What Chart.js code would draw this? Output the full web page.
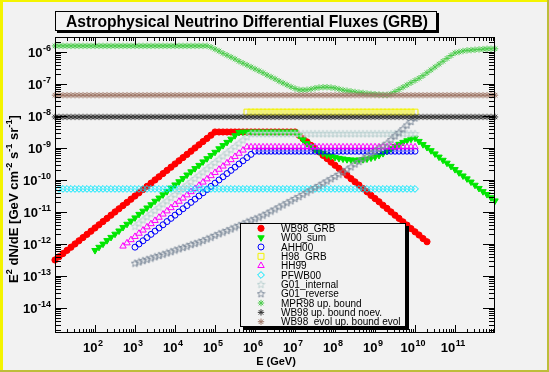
<!DOCTYPE html>
<html>
<head>
<meta charset="utf-8">
<title>Astrophysical Neutrino Differential Fluxes (GRB)</title>
<script src="https://cdn.jsdelivr.net/npm/chart.js@4.4.1/dist/chart.umd.min.js"></script>
<style>
  html, body { margin: 0; padding: 0; background: #f2f2f2; }
  #wrap { width: 549px; height: 372px; }
</style>
</head>
<body>
<div id="wrap"><canvas id="fluxChart" width="549" height="372"></canvas></div>
<script>
// log10(E / GeV) sampling grid shared by every curve
const LOG_E = [
  1.0, 1.1, 1.2, 1.3, 1.4, 1.5, 1.6, 1.7, 1.8, 1.9,
  2.0, 2.1, 2.2, 2.3, 2.4, 2.5, 2.6, 2.7, 2.8, 2.9,
  3.0, 3.1, 3.2, 3.3, 3.4, 3.5, 3.6, 3.7, 3.8, 3.9,
  4.0, 4.1, 4.2, 4.3, 4.4, 4.5, 4.6, 4.7, 4.8, 4.9,
  5.0, 5.1, 5.2, 5.3, 5.4, 5.5, 5.6, 5.7, 5.8, 5.9,
  6.0, 6.1, 6.2, 6.3, 6.4, 6.5, 6.6, 6.7, 6.8, 6.9,
  7.0, 7.1, 7.2, 7.3, 7.4, 7.5, 7.6, 7.7, 7.8, 7.9,
  8.0, 8.1, 8.2, 8.3, 8.4, 8.5, 8.6, 8.7, 8.8, 8.9,
  9.0, 9.1, 9.2, 9.3, 9.4, 9.5, 9.6, 9.7, 9.8, 9.9,
  10.0, 10.1, 10.2, 10.3, 10.4, 10.5, 10.6, 10.7, 10.8, 10.9,
  11.0, 11.1, 11.2, 11.3, 11.4, 11.5, 11.6, 11.7, 11.8, 11.9,
  12.0
];

const SERIES_NAMES = [
  'WB98_GRB', 'W00_sum', 'AHH00', 'H98_GRB', 'HH99', 'PFWB00',
  'G01_internal', 'G01_reverse', 'MPR98 up. bound', 'WB98 up. bound noev.',
  'WB98_evol up. bound evol'
];

// log10(E^2 dN/dE); each list starts at the log10(E) in *From
const wb98GrbFrom = 1.0;
const wb98Grb = [
  -12.5, -12.4, -12.3, -12.2, -12.1, -12.0, -11.9, -11.8, -11.7, -11.6,
  -11.5, -11.4, -11.3, -11.2, -11.1, -11.0, -10.9, -10.8, -10.7, -10.6,
  -10.5, -10.4, -10.3, -10.2, -10.1, -10.0, -9.9, -9.8, -9.7, -9.6,
  -9.5, -9.4, -9.3, -9.2, -9.1, -9.0, -8.9, -8.8, -8.7, -8.6,
  -8.5,
  -8.5, -8.5, -8.5, -8.5, -8.5, -8.5, -8.5, -8.5, -8.5, -8.5,
  -8.5, -8.5, -8.5, -8.5, -8.5, -8.5, -8.5, -8.5, -8.5, -8.5,
  -8.60, -8.71, -8.81, -8.92, -9.02, -9.12, -9.23, -9.33, -9.44, -9.54,
  -9.64, -9.75, -9.85, -9.96, -10.06, -10.16, -10.27, -10.37, -10.48, -10.58,
  -10.68, -10.79, -10.89, -11.00, -11.10, -11.20, -11.31, -11.41, -11.52, -11.62,
  -11.72, -11.83, -11.93
];

const w00SumFrom = 2.0;
const w00Sum = [
  -12.20, -12.10, -12.00, -11.89, -11.79, -11.69, -11.59, -11.48, -11.38, -11.28,
  -11.18, -11.07, -10.97, -10.87, -10.77, -10.66, -10.56, -10.46, -10.36, -10.25,
  -10.15, -10.05, -9.95, -9.84, -9.74, -9.64, -9.54, -9.43, -9.33, -9.23,
  -9.13, -9.02, -8.92, -8.82, -8.72, -8.61, -8.51,
  -8.5, -8.5, -8.5, -8.5, -8.5, -8.5, -8.5, -8.5, -8.5, -8.5, -8.5, -8.5, -8.5, -8.5,
  -8.60, -8.74, -8.86, -8.95, -9.04, -9.11, -9.17, -9.22, -9.26, -9.29,
  -9.32, -9.34, -9.36, -9.37, -9.38, -9.37, -9.36, -9.34, -9.31, -9.28,
  -9.23, -9.17, -9.10, -9.02, -8.95, -8.88, -8.82, -8.77, -8.72, -8.69,
  -8.79, -8.89, -8.98, -9.08, -9.18, -9.28, -9.38, -9.47, -9.57, -9.67,
  -9.77, -9.87, -9.96, -10.06, -10.16, -10.26, -10.36, -10.45, -10.55, -10.65
];

const ahh00From = 3.0;
const ahh00 = [
  -12.1, -12.0, -11.9, -11.8, -11.7, -11.6, -11.5, -11.4, -11.3, -11.2,
  -11.1, -11.0, -10.9, -10.8, -10.7, -10.6, -10.5, -10.4, -10.3, -10.2,
  -10.1, -10.0, -9.9, -9.8, -9.7, -9.6, -9.5, -9.4, -9.3, -9.2,
  -9.1,
  -9.1, -9.1, -9.1, -9.1, -9.1, -9.1, -9.1, -9.1, -9.1, -9.1,
  -9.1, -9.1, -9.1, -9.1, -9.1, -9.1, -9.1, -9.1, -9.1, -9.1,
  -9.1, -9.1, -9.1, -9.1, -9.1, -9.1, -9.1, -9.1, -9.1, -9.1,
  -9.1, -9.1, -9.1, -9.1, -9.1, -9.1, -9.1, -9.1, -9.1, -9.1
];

const h98GrbFrom = 5.8;
const h98Grb = [
  -7.88, -7.88, -7.88, -7.88, -7.88, -7.88, -7.88, -7.88, -7.88, -7.88,
  -7.88, -7.88, -7.88, -7.88, -7.88, -7.88, -7.88, -7.88, -7.88, -7.88,
  -7.88, -7.88, -7.88, -7.88, -7.88, -7.88, -7.88, -7.88, -7.88, -7.88,
  -7.88, -7.88, -7.88, -7.88, -7.88, -7.88, -7.88, -7.88, -7.88, -7.88,
  -7.88, -7.88, -7.88
];

const hh99From = 2.7;
const hh99 = [
  -12.07, -11.97, -11.87, -11.77, -11.67, -11.57, -11.47, -11.37, -11.27, -11.17,
  -11.07, -10.97, -10.87, -10.77, -10.67, -10.57, -10.47, -10.37, -10.27, -10.17,
  -10.07, -9.97, -9.87, -9.77, -9.67, -9.57, -9.47, -9.37, -9.27, -9.17,
  -9.07, -8.97,
  -8.97, -8.97, -8.97, -8.97, -8.97, -8.97, -8.97, -8.97, -8.97, -8.97,
  -8.97, -8.97, -8.97, -8.97, -8.97, -8.97, -8.97, -8.97, -8.97, -8.97,
  -8.97, -8.97, -8.97, -8.97, -8.97, -8.97, -8.97, -8.97, -8.97, -8.97,
  -8.97, -8.97, -8.97, -8.97, -8.97, -8.97, -8.97, -8.97, -8.97, -8.97,
  -8.97, -8.97
];

const pfwb00From = 1.1;
const pfwb00 = [
  -10.28, -10.28, -10.28, -10.28, -10.28, -10.28, -10.28, -10.28, -10.28, -10.28,
  -10.28, -10.28, -10.28, -10.28, -10.28, -10.28, -10.28, -10.28, -10.28, -10.28,
  -10.28, -10.28, -10.28, -10.28, -10.28, -10.28, -10.28, -10.28, -10.28, -10.28,
  -10.28, -10.28, -10.28, -10.28, -10.28, -10.28, -10.28, -10.28, -10.28, -10.28,
  -10.28, -10.28, -10.28, -10.28, -10.28, -10.28, -10.28, -10.28, -10.28, -10.28,
  -10.28, -10.28, -10.28, -10.28, -10.28, -10.28, -10.28, -10.28, -10.28, -10.28,
  -10.28, -10.28, -10.28, -10.28, -10.28, -10.28, -10.28, -10.28, -10.28, -10.28,
  -10.28, -10.28, -10.28, -10.28, -10.28, -10.28, -10.28, -10.28, -10.28, -10.28,
  -10.28, -10.28, -10.28, -10.28, -10.28, -10.28, -10.28, -10.28, -10.28, -10.28
];

const g01InternalFrom = 3.0;
const g01Internal = [
  -11.45, -11.35, -11.25, -11.15, -11.05, -10.95, -10.85, -10.75, -10.65, -10.55,
  -10.45, -10.35, -10.25, -10.15, -10.05, -9.95, -9.85, -9.75, -9.65, -9.55,
  -9.45, -9.35, -9.25, -9.15, -9.05, -8.95, -8.85, -8.75, -8.65, -8.55,
  -8.55, -8.55, -8.55, -8.55, -8.55, -8.55, -8.55, -8.55, -8.55, -8.55,
  -8.55, -8.55, -8.55, -8.55, -8.55, -8.55, -8.55, -8.55, -8.55, -8.55,
  -8.55, -8.55, -8.55, -8.55, -8.55, -8.55, -8.55, -8.55, -8.55, -8.55,
  -8.55, -8.55, -8.55, -8.55, -8.55, -8.55, -8.55, -8.55, -8.55, -8.55,
  -8.55
];

const g01ReverseFrom = 3.0;
const g01Reverse = [
  -12.60, -12.56, -12.52, -12.48, -12.44, -12.40, -12.36, -12.32, -12.28, -12.24,
  -12.19, -12.15, -12.11, -12.07, -12.02, -11.98, -11.94, -11.89, -11.84, -11.79,
  -11.73, -11.68, -11.63, -11.58, -11.53, -11.47, -11.42, -11.37, -11.31, -11.26,
  -11.21, -11.16, -11.10, -11.04, -10.97, -10.91, -10.84, -10.78, -10.71, -10.65,
  -10.58, -10.52, -10.45, -10.38, -10.31, -10.24, -10.17, -10.10, -10.03, -9.96,
  -9.89, -9.82, -9.75, -9.67, -9.59, -9.50, -9.42, -9.34, -9.26, -9.18,
  -9.10, -9.01, -8.93, -8.85, -8.74, -8.62, -8.51, -8.40, -8.28, -8.17,
  -8.06
];

const mpr98From = 1.0;
const mpr98 = [
  -5.81, -5.81, -5.81, -5.81, -5.81, -5.81, -5.81, -5.81, -5.81, -5.81,
  -5.81, -5.81, -5.81, -5.81, -5.81, -5.81, -5.81, -5.81, -5.81, -5.81,
  -5.81, -5.81, -5.81, -5.81, -5.81, -5.81, -5.81, -5.81, -5.81, -5.81,
  -5.81, -5.81, -5.81, -5.81, -5.81, -5.81, -5.81, -5.81, -5.81,
  -5.85, -5.91,
  -5.97, -6.04, -6.10, -6.16, -6.22, -6.29, -6.35, -6.41, -6.47, -6.53,
  -6.59, -6.65, -6.72, -6.78, -6.84, -6.91, -6.97, -7.03, -7.09, -7.14,
  -7.18, -7.19, -7.18, -7.16, -7.13, -7.11, -7.10, -7.10, -7.11, -7.13,
  -7.16, -7.19, -7.21, -7.23, -7.25, -7.27, -7.28, -7.30, -7.31, -7.32,
  -7.33, -7.34, -7.34, -7.31, -7.24, -7.17, -7.10, -7.03, -6.96, -6.89,
  -6.82, -6.74, -6.65, -6.56, -6.47, -6.38, -6.29, -6.20, -6.11, -6.03,
  -6.00, -5.97, -5.95, -5.94, -5.93, -5.92, -5.91, -5.90, -5.90, -5.90
];

const wb98NoevFrom = 1.0;
const wb98Noev = [
  -8.03, -8.03, -8.03, -8.03, -8.03, -8.03, -8.03, -8.03, -8.03, -8.03,
  -8.03, -8.03, -8.03, -8.03, -8.03, -8.03, -8.03, -8.03, -8.03, -8.03,
  -8.03, -8.03, -8.03, -8.03, -8.03, -8.03, -8.03, -8.03, -8.03, -8.03,
  -8.03, -8.03, -8.03, -8.03, -8.03, -8.03, -8.03, -8.03, -8.03, -8.03,
  -8.03, -8.03, -8.03, -8.03, -8.03, -8.03, -8.03, -8.03, -8.03, -8.03,
  -8.03, -8.03, -8.03, -8.03, -8.03, -8.03, -8.03, -8.03, -8.03, -8.03,
  -8.03, -8.03, -8.03, -8.03, -8.03, -8.03, -8.03, -8.03, -8.03, -8.03,
  -8.03, -8.03, -8.03, -8.03, -8.03, -8.03, -8.03, -8.03, -8.03, -8.03,
  -8.03, -8.03, -8.03, -8.03, -8.03, -8.03, -8.03, -8.03, -8.03, -8.03,
  -8.03, -8.03, -8.03, -8.03, -8.03, -8.03, -8.03, -8.03, -8.03, -8.03,
  -8.03, -8.03, -8.03, -8.03, -8.03, -8.03, -8.03, -8.03, -8.03, -8.03,
  -8.03
];

const wb98EvolFrom = 1.0;
const wb98Evol = [
  -7.35, -7.35, -7.35, -7.35, -7.35, -7.35, -7.35, -7.35, -7.35, -7.35,
  -7.35, -7.35, -7.35, -7.35, -7.35, -7.35, -7.35, -7.35, -7.35, -7.35,
  -7.35, -7.35, -7.35, -7.35, -7.35, -7.35, -7.35, -7.35, -7.35, -7.35,
  -7.35, -7.35, -7.35, -7.35, -7.35, -7.35, -7.35, -7.35, -7.35, -7.35,
  -7.35, -7.35, -7.35, -7.35, -7.35, -7.35, -7.35, -7.35, -7.35, -7.35,
  -7.35, -7.35, -7.35, -7.35, -7.35, -7.35, -7.35, -7.35, -7.35, -7.35,
  -7.35, -7.35, -7.35, -7.35, -7.35, -7.35, -7.35, -7.35, -7.35, -7.35,
  -7.35, -7.35, -7.35, -7.35, -7.35, -7.35, -7.35, -7.35, -7.35, -7.35,
  -7.35, -7.35, -7.35, -7.35, -7.35, -7.35, -7.35, -7.35, -7.35, -7.35,
  -7.35, -7.35, -7.35, -7.35, -7.35, -7.35, -7.35, -7.35, -7.35, -7.35,
  -7.35, -7.35, -7.35, -7.35, -7.35, -7.35, -7.35, -7.35, -7.35, -7.35,
  -7.35
];

// axis ranges and labelled decades
const X_MIN = 1e1, X_MAX = 1e12;
const Y_MIN = 1.65e-15, Y_MAX = 2.94e-6;
const X_TICK_EXPONENTS = [2, 3, 4, 5, 6, 7, 8, 9, 10, 11];
const Y_TICK_EXPONENTS = [-6, -7, -8, -9, -10, -11, -12, -13, -14];

const FONT = "'Liberation Sans', Arial, Helvetica, sans-serif";

// open five point star, like the ROOT marker used for the G01 curves
function starMarker(color) {
  const c = document.createElement('canvas');
  c.width = 9; c.height = 9;
  const g = c.getContext('2d');
  g.strokeStyle = color;
  g.lineWidth = 1;
  g.beginPath();
  for (let k = 0; k < 10; k++) {
    const r = k % 2 ? 1.7 : 3.9;
    const a = -Math.PI / 2 + k * Math.PI / 5;
    const px = 4.5 + r * Math.cos(a), py = 4.8 + r * Math.sin(a);
    if (k === 0) g.moveTo(px, py); else g.lineTo(px, py);
  }
  g.closePath();
  g.stroke();
  return c;
}

const MARKERS = [
  { color: '#ff0000', style: 'circle', radius: 3.1, filled: true },
  { color: '#00e600', style: 'triangle', radius: 3.7, rotation: 180, filled: true },
  { color: '#0000ff', style: 'circle', radius: 3.0, filled: false },
  { color: '#f2f200', style: 'rect', radius: 4.2, filled: false },
  { color: '#ff00ff', style: 'triangle', radius: 3.7, filled: false },
  { color: '#00e8ff', style: 'rectRot', radius: 3.4, filled: false },
  { color: '#bcd2d2', style: starMarker('#bcd2d2'), radius: 4, filled: false },
  { color: '#7f8c9c', style: starMarker('#7f8c9c'), radius: 4, filled: false },
  { color: '#4ccc4c', style: 'star', radius: 3.2, filled: false },
  { color: '#333333', style: 'star', radius: 3.2, filled: false },
  { color: '#a07868', style: 'star', radius: 3.2, filled: false }
];

const SERIES = [
  [wb98GrbFrom, wb98Grb], [w00SumFrom, w00Sum], [ahh00From, ahh00],
  [h98GrbFrom, h98Grb], [hh99From, hh99], [pfwb00From, pfwb00],
  [g01InternalFrom, g01Internal], [g01ReverseFrom, g01Reverse],
  [mpr98From, mpr98], [wb98NoevFrom, wb98Noev], [wb98EvolFrom, wb98Evol]
];

function points(from, logFlux) {
  const i0 = LOG_E.indexOf(from);
  return logFlux.map((v, i) => ({ x: Math.pow(10, LOG_E[i0 + i]), y: Math.pow(10, v) }));
}

const datasets = SERIES.map(([from, vals], i) => {
  const m = MARKERS[i];
  return {
    label: SERIES_NAMES[i],
    data: points(from, vals),
    showLine: false,
    pointStyle: m.style,
    pointRadius: m.radius,
    pointRotation: m.rotation || 0,
    pointBorderWidth: 1,
    pointBorderColor: m.color,
    pointBackgroundColor: m.filled ? m.color : 'rgba(0,0,0,0)',
    clip: false,
    order: SERIES.length - i   // later curves on top, as in the original
  };
});

// draw "10" with a raised exponent
function drawPower(ctx, exp, x, y, align) {
  const base = 'bold 13px ' + FONT, sup = 'bold 9px ' + FONT;
  ctx.font = base;
  const w10 = ctx.measureText('10').width;
  ctx.font = sup;
  const wExp = ctx.measureText(String(exp)).width;
  const total = w10 + wExp + 0.5;
  const x0 = align === 'right' ? x - total : x - total / 2;
  ctx.textAlign = 'left';
  ctx.textBaseline = 'alphabetic';
  ctx.font = base;
  ctx.fillText('10', x0, y);
  ctx.font = sup;
  ctx.fillText(String(exp), x0 + w10 + 0.5, y - 6);
}

// text runs with superscripts
function richWidth(ctx, parts, size) {
  let w = 0;
  parts.forEach(([t, s]) => {
    ctx.font = 'bold ' + (s ? size * 0.7 : size) + 'px ' + FONT;
    w += ctx.measureText(t).width;
  });
  return w;
}
function drawRich(ctx, parts, size, x, y) {
  let cx = x;
  parts.forEach(([t, s]) => {
    ctx.font = 'bold ' + (s ? size * 0.7 : size) + 'px ' + FONT;
    ctx.fillText(t, cx, s ? y - size * 0.45 : y);
    cx += ctx.measureText(t).width;
  });
}

const rootStyle = {
  id: 'rootStyle',
  beforeDraw(chart) {
    const ctx = chart.ctx, W = chart.width, H = chart.height;
    ctx.save();
    ctx.fillStyle = '#f2f2f2';
    ctx.fillRect(0, 0, W, H);
    // raised canvas border
    ctx.fillStyle = '#bdbd3a';
    ctx.fillRect(W - 2, 0, 2, H);
    ctx.fillRect(0, H - 2, W, 2);
    ctx.fillStyle = '#f4f400';
    ctx.fillRect(0, 0, 3, H - 2);
    ctx.fillRect(0, 0, W - 2, 2);
    ctx.restore();
  },
  afterDraw(chart) {
    const ctx = chart.ctx, ca = chart.chartArea;
    const xs = chart.scales.x, ys = chart.scales.y;
    ctx.save();
    ctx.strokeStyle = '#000';
    ctx.fillStyle = '#000';
    ctx.lineWidth = 1;

    // frame
    ctx.strokeRect(ca.left + 0.5, ca.top + 0.5, ca.right - ca.left - 1, ca.bottom - ca.top - 1);

    ctx.beginPath();
    // x ticks, bottom and top, pointing inwards
    for (let n = 1; n <= 11; n++) {
      for (let k = 1; k <= 9; k++) {
        const px = Math.round(xs.getPixelForValue(k * Math.pow(10, n))) + 0.5;
        const len = k === 1 ? 8 : 4;
        ctx.moveTo(px, ca.bottom); ctx.lineTo(px, ca.bottom - len);
        ctx.moveTo(px, ca.top); ctx.lineTo(px, ca.top + len);
      }
    }
    // y ticks, left and right
    for (let n = -15; n <= -6; n++) {
      for (let k = 1; k <= 9; k++) {
        const v = k * Math.pow(10, n);
        if (v < Y_MIN || v > Y_MAX) continue;
        const py = Math.round(ys.getPixelForValue(v)) + 0.5;
        const len = k === 1 ? 12 : 6;
        ctx.moveTo(ca.left, py); ctx.lineTo(ca.left + len, py);
        ctx.moveTo(ca.right, py); ctx.lineTo(ca.right - len, py);
      }
    }
    ctx.stroke();

    // tick labels
    X_TICK_EXPONENTS.forEach(e => {
      drawPower(ctx, e, xs.getPixelForValue(Math.pow(10, e)) - 2, 352, 'center');
    });
    Y_TICK_EXPONENTS.forEach(e => {
      drawPower(ctx, '-' + Math.abs(e), 51, ys.getPixelForValue(Math.pow(10, e)) + 5, 'right');
    });

    // axis titles
    ctx.font = 'bold 11px ' + FONT;
    ctx.textAlign = 'center';
    ctx.fillText('E (GeV)', 276, 365);
    ctx.textAlign = 'left';

    const yTitle = [['E', 0], ['2', 1], [' dN/dE [GeV cm', 0], ['-2', 1], [' s', 0],
                    ['-1', 1], [' sr', 0], ['-1', 1], [']', 0]];
    let ySize = 11;
    ySize *= 168 / richWidth(ctx, yTitle, ySize);
    const yw = richWidth(ctx, yTitle, ySize);
    ctx.save();
    ctx.translate(18, 199);
    ctx.rotate(-Math.PI / 2);
    drawRich(ctx, yTitle, ySize, -yw / 2, 0);
    ctx.restore();

    // title box with shadow
    ctx.fillStyle = '#000';
    ctx.fillRect(57, 13, 382, 20);
    ctx.fillStyle = '#f2f2f2';
    ctx.fillRect(55, 11, 382, 20);
    ctx.strokeRect(55.5, 11.5, 381, 19);
    ctx.fillStyle = '#000';
    const title = 'Astrophysical Neutrino Differential Fluxes (GRB)';
    ctx.font = 'bold 15px ' + FONT;
    const tSize = 15 * 362 / ctx.measureText(title).width;
    ctx.font = 'bold ' + tSize.toFixed(2) + 'px ' + FONT;
    ctx.textAlign = 'center';
    ctx.fillText(title, 247, 26.5);

    // legend box with shadow
    const lx = 240, ly = 223, lw = 166, lh = 104;
    ctx.fillStyle = '#000';
    ctx.fillRect(lx + 3, ly + 3, lw, lh);
    ctx.fillStyle = '#f2f2f2';
    ctx.fillRect(lx, ly, lw, lh);
    ctx.strokeRect(lx + 0.5, ly + 0.5, lw - 1, lh - 1);
    ctx.textAlign = 'left';
    SERIES_NAMES.forEach((name, i) => {
      const cy = 228.3 + i * 9.34;
      const m = MARKERS[i];
      if (Chart.helpers && Chart.helpers.drawPoint) {
        ctx.save();
        ctx.strokeStyle = m.color;
        ctx.fillStyle = m.filled ? m.color : 'rgba(0,0,0,0)';
        ctx.lineWidth = 1;
        Chart.helpers.drawPoint(ctx, {
          pointStyle: m.style, radius: m.radius, rotation: m.rotation || 0, borderWidth: 1
        }, 261, cy);
        ctx.restore();
      }
      ctx.fillStyle = '#000';
      ctx.font = '10px ' + FONT;
      ctx.fillText(name, 281, cy + 3.6);
    });
    ctx.restore();
  }
};

new Chart(document.getElementById('fluxChart'), {
  type: 'scatter',
  data: { datasets },
  options: {
    responsive: false,
    animation: false,
    events: [],
    layout: { padding: { left: 55, right: 54, top: 37, bottom: 39 } },
    scales: {
      x: { type: 'logarithmic', display: false, min: X_MIN, max: X_MAX },
      y: { type: 'logarithmic', display: false, min: Y_MIN, max: Y_MAX }
    },
    plugins: {
      legend: { display: false },
      title: { display: false },
      tooltip: { enabled: false }
    }
  },
  plugins: [rootStyle]
});
</script>
</body>
</html>
